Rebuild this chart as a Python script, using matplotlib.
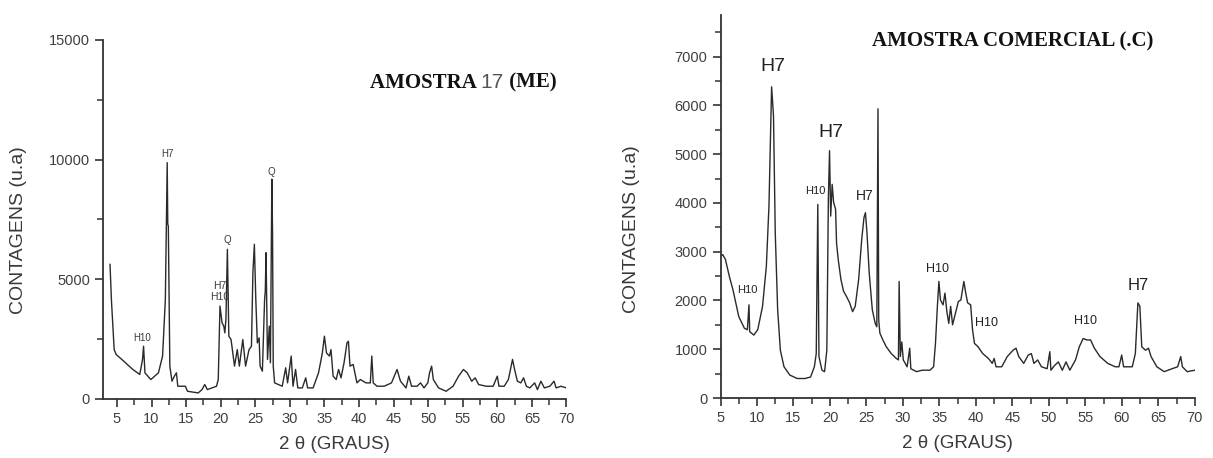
import matplotlib
matplotlib.use("Agg")
import matplotlib.pyplot as plt
from matplotlib.ticker import MultipleLocator

plt.rcParams['font.family'] = ['Liberation Sans', 'DejaVu Sans']

# --- amostra 17 (ME): difratograma lido ponto a ponto ---
theta_me = [4.0, 4.2, 4.6, 4.9, 5.7, 7.3, 8.3, 8.7, 8.85, 9.05, 9.9, 11.0, 11.6, 12.0,
            12.27, 12.35, 12.43, 12.65, 12.96, 13.3, 13.6, 13.8, 14.9, 15.2, 16.75, 17.3,
            17.7, 18.07, 19.4, 19.65, 19.9, 20.2, 20.45, 20.6, 20.76, 20.97, 21.18, 21.5,
            22.0, 22.4, 22.7, 23.2, 23.6, 24.1, 24.45, 24.66, 24.87, 25.08, 25.3, 25.56,
            25.7, 26.03, 26.35, 26.45, 26.56, 26.77, 27.03, 27.19, 27.4, 27.5, 27.6, 27.8,
            28.9, 29.4, 29.67, 30.2, 30.46, 30.83, 31.15, 31.8, 32.3, 32.57, 33.36, 34.15,
            34.7, 35.0, 35.3, 35.73, 35.95, 36.26, 36.7, 37.05, 37.4, 37.84, 38.26, 38.47,
            38.7, 39.16, 39.7, 40.2, 41.0, 41.64, 41.85, 42.06, 42.6, 43.64, 44.7, 45.5,
            46.0, 46.8, 47.2, 47.6, 48.4, 48.9, 49.4, 49.95, 50.2, 50.5, 50.75, 51.5, 52.6,
            53.6, 54.4, 55.1, 55.65, 56.3, 56.8, 57.3, 58.4, 59.4, 60.0, 60.24, 61.0, 61.6,
            62.2, 62.5, 62.9, 63.4, 63.8, 64.2, 64.7, 65.4, 65.8, 66.3, 66.8, 67.6, 68.2,
            68.5, 69.2, 70.0]
cont_me = [5620, 4150, 2060, 1850, 1650, 1230, 1020, 1650, 2200, 1090, 810, 1090, 1790, 4150,
           9870, 7300, 7220, 1370, 740, 950, 1090, 530, 530, 320, 250, 390,
           600, 390, 530, 810, 3880, 3180, 3040, 2760, 3320, 6250, 2620, 2480,
           1370, 2060, 1370, 2480, 1370, 2060, 2200, 5270, 6460, 4150, 2340, 2550,
           1370, 1160, 4150, 4500, 6110, 1650, 3040, 1510, 9180, 6970, 1370, 670,
           530, 1300, 670, 1790, 530, 1230, 460, 460, 880, 460, 460, 1090,
           1920, 2620, 1920, 1790, 2060, 950, 810, 1230, 880, 1510, 2340, 2410,
           1370, 1440, 670, 810, 670, 670, 1790, 670, 530, 530, 670, 1230,
           740, 460, 950, 530, 530, 670, 460, 670, 1090, 1370, 810, 460, 320,
           530, 950, 1230, 1090, 740, 880, 600, 530, 530, 950, 530, 530, 810,
           1650, 1230, 740, 670, 880, 530, 460, 670, 390, 740, 460, 530, 740,
           460, 530, 460]

# --- amostra comercial (C) ---
theta_c = [5.0, 5.3, 5.67, 6.2, 6.7, 7.5, 8.27, 8.68, 8.9, 9.0, 9.56, 10.1, 10.76, 11.28,
           11.64, 12.0, 12.26, 12.5, 12.83, 13.2, 13.7, 14.5, 15.5, 16.57, 17.34, 17.86,
           18.12, 18.33, 18.49, 18.9, 19.26, 19.57, 19.78, 19.94, 20.1, 20.3, 20.5, 20.77,
           20.9, 21.13, 21.5, 21.86, 22.27, 22.7, 23.1, 23.46, 23.93, 24.35, 24.66, 24.86,
           25.07, 25.38, 25.8, 26.2, 26.42, 26.58, 26.68, 26.84, 27.25, 27.72, 28.4, 29.1,
           29.38, 29.48, 29.64, 29.84, 30.05, 30.57, 30.93, 31.08, 31.87, 32.65, 33.7, 34.2,
           34.46, 34.72, 34.93, 35.14, 35.5, 35.76, 36.02, 36.28, 36.54, 36.8, 37.2, 37.6,
           37.94, 38.35, 38.61, 38.87, 39.28, 39.54, 39.8, 40.3, 40.94, 41.72, 42.24, 42.5,
           42.76, 43.54, 44.3, 45.1, 45.5, 45.87, 46.55, 47.17, 47.6, 47.95, 48.47, 48.98,
           49.76, 50.13, 50.28, 50.8, 51.3, 51.84, 52.35, 52.87, 53.65, 54.17, 54.7, 55.2,
           55.72, 56.24, 57.0, 58.06, 59.1, 59.6, 59.98, 60.24, 61.43, 61.85, 62.2, 62.47,
           62.73, 63.24, 63.66, 64.0, 64.8, 65.8, 66.88, 67.65, 68.07, 68.3, 68.95, 70.0]
cont_c = [2907, 2940, 2840, 2500, 2220, 1670, 1430, 1400, 1910, 1360, 1290, 1400, 1880, 2700,
          3940, 6380, 5790, 3390, 1810, 980, 640, 470, 400, 400, 430, 640,
          910, 3970, 850, 570, 540, 980, 4080, 5070, 3730, 4380, 4010, 3870,
          3180, 2840, 2430, 2190, 2080, 1950, 1770, 1880, 2430, 3250, 3700, 3800,
          3390, 2560, 1810, 1530, 1460, 5930, 1600, 1330, 1190, 1050, 910, 810,
          780, 2390, 850, 1150, 780, 640, 1020, 600, 540, 570, 570, 640,
          1120, 1880, 2390, 2010, 1910, 2150, 1770, 1530, 1880, 1500, 1740, 1980,
          2010, 2390, 2150, 1950, 1910, 1400, 1120, 1050, 910, 810, 710, 810,
          640, 640, 850, 980, 1020, 850, 710, 880, 910, 710, 780, 640,
          600, 950, 570, 670, 740, 570, 740, 570, 780, 1050, 1220, 1190,
          1190, 1020, 850, 710, 640, 640, 880, 640, 640, 910, 1950, 1880,
          1050, 980, 1020, 850, 640, 540, 600, 640, 850, 640, 540, 570]

# rotulos das fases: (texto, 2theta, contagem, tamanho)
picos_me = [("H10", 8.7, 2550, 7), ("H7", 12.3, 10220, 7), ("H7", 19.8, 4710, 7.5),
            ("H10", 19.8, 4250, 7.5), ("Q", 21.0, 6640, 7), ("Q", 27.3, 9460, 7)]
picos_c = [("H7", 12.16, 6790, 14), ("H7", 20.1, 5450, 14), ("H10", 17.97, 4250, 8),
           ("H7", 24.76, 4140, 10), ("H10", 8.63, 2220, 8), ("H10", 34.8, 2650, 9),
           ("H10", 41.5, 1530, 9), ("H10", 55.05, 1570, 9), ("H7", 62.3, 2300, 12)]

cor = "#2a2a2a"
cinza = "#3a3a3a"
fig = plt.figure(figsize=(12.13, 4.58), dpi=100)
ax1 = fig.add_axes([0.085, 0.129, 0.382, 0.784])
ax2 = fig.add_axes([0.594, 0.131, 0.391, 0.836])


def estilo(ax, ymaj, ymin):
    for s in ("top", "right"):
        ax.spines[s].set_visible(False)
    for s in ("left", "bottom"):
        ax.spines[s].set_linewidth(1.3)
        ax.spines[s].set_color("#333333")
    ax.xaxis.set_major_locator(MultipleLocator(5))
    ax.xaxis.set_minor_locator(MultipleLocator(2.5))
    ax.yaxis.set_major_locator(MultipleLocator(ymaj))
    ax.yaxis.set_minor_locator(MultipleLocator(ymin))
    ax.tick_params(which="major", direction="out", length=6, width=1.2,
                   labelsize=10.5, colors="#333333", labelcolor="#404040")
    ax.tick_params(which="minor", direction="out", length=4, width=1.1, colors="#333333")
    ax.set_xlabel("2 \u03b8 (GRAUS)", fontsize=13.5, color=cinza, labelpad=7)
    ax.set_ylabel("CONTAGENS (u.a)", fontsize=14, color=cinza, labelpad=10)


def titulo(ax, x, y, partes):
    # escreve o titulo em pedacos, um ao lado do outro
    fig.canvas.draw()
    r = fig.canvas.get_renderer()
    px, py = ax.transAxes.transform((x, y))
    for txt, kw in partes:
        t = fig.text(px / fig.bbox.width, py / fig.bbox.height, txt,
                     ha="left", va="center", **kw)
        px = t.get_window_extent(r).x1


serif = dict(family="Liberation Serif", weight="bold", fontsize=15, color="#111111")
sans = dict(family="Liberation Sans", fontsize=15, color="#555555")

ax1.plot(theta_me, cont_me, color=cor, lw=1.0)
ax1.set_xlim(3, 70)
ax1.set_ylim(0, 15000)
estilo(ax1, 5000, 2500)
ax1.yaxis.set_label_coords(-0.165, 0.47)
for txt, x, y, fs in picos_me:
    ax1.text(x, y, txt, fontsize=fs, ha="center", va="center", color=cinza)

ax2.plot(theta_c, cont_c, color=cor, lw=1.0)
ax2.set_xlim(5, 70)
ax2.set_ylim(0, 7850)
estilo(ax2, 1000, 500)
ax2.yaxis.set_label_coords(-0.17, 0.44)
for txt, x, y, fs in picos_c:
    ax2.text(x, y, txt, fontsize=fs, ha="center", va="center", color="#222222")

titulo(ax1, 0.575, 0.88, [("AMOSTRA ", serif), ("17", sans), (" (ME)", serif)])
titulo(ax2, 0.32, 0.93, [("AMOSTRA COMERCIAL (.C)", serif)])

fig.savefig("out.png", dpi=100)
